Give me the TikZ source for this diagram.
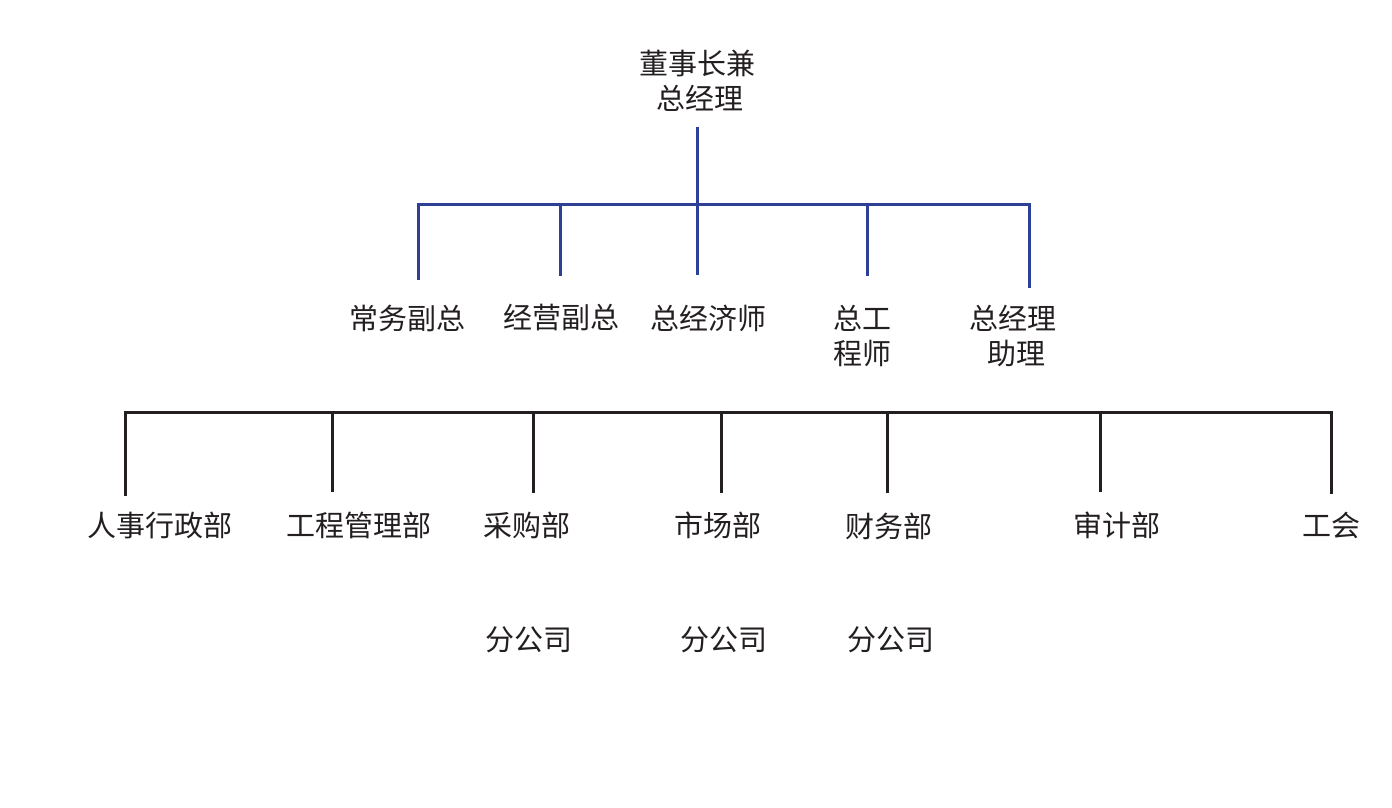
\documentclass[tikz,border=0pt]{standalone}
\usepackage{fontspec}
\setmainfont{Noto Sans CJK SC}
\definecolor{lineblue}{HTML}{2E3F96}
\definecolor{lineblack}{HTML}{231F20}
\definecolor{textc}{HTML}{231F20}
\begin{document}
\begin{tikzpicture}[x=1pt,y=-1pt,
  lbl/.style={inner sep=0pt,align=center,text=textc,font=\fontsize{29}{35}\selectfont},
  blueline/.style={draw=lineblue,line width=3pt},
  blackline/.style={draw=lineblack,line width=3pt}]
\useasboundingbox (0,0) rectangle (1392,807);
% labels
\node[lbl] (ceo) at (697,81) {董事长兼\\\ 总经理};
\node[lbl] (v1) at (407,318) {常务副总};
\node[lbl] (v2) at (561,318) {经营副总};
\node[lbl] (v3) at (708,318) {总经济师};
\node[lbl] (v4) at (862,336) {总工\\程师};
\node[lbl] (v5) at (1013,336) {总经理\\\ 助理};
\node[lbl] (d1) at (160,525) {人事行政部};
\node[lbl] (d2) at (359,525) {工程管理部};
\node[lbl] (d3) at (527,525) {采购部};
\node[lbl] (d4) at (718,525) {市场部};
\node[lbl] (d5) at (889,526) {财务部};
\node[lbl] (d6) at (1117,525) {审计部};
\node[lbl] (d7) at (1331,525) {工会};
\node[lbl] (b1) at (529,640) {分公司};
\node[lbl] (b2) at (724,640) {分公司};
\node[lbl] (b3) at (891,640) {分公司};
% blue tree coordinates
\coordinate (ctop) at (697,127);
\coordinate (cj) at (697,204);
\coordinate (hl) at (418,204);
\coordinate (hr) at (1029,204);
\coordinate (j2) at (560,204);
\coordinate (j4) at (867,204);
\coordinate (e1) at (418,278);
\coordinate (e2) at (560,276);
\coordinate (e3) at (697,275);
\coordinate (e4) at (867,276);
\coordinate (e5) at (1029,286);
\draw[blueline] (ctop) -- (cj);
\draw[blueline,line cap=rect] (e1) -- (hl) -- (hr) -- (e5);
\draw[blueline] (j2) -- (e2);
\draw[blueline] (cj) -- (e3);
\draw[blueline] (j4) -- (e4);
% black tree
\coordinate (kl) at (125,412);
\coordinate (kr) at (1331,412);
\coordinate (k2) at (332,412);
\coordinate (k3) at (533,412);
\coordinate (k4) at (721,412);
\coordinate (k5) at (887,412);
\coordinate (k6) at (1100,412);
\coordinate (f1) at (125,494);
\coordinate (f2) at (332,492);
\coordinate (f3) at (533,493);
\coordinate (f4) at (721,493);
\coordinate (f5) at (887,493);
\coordinate (f6) at (1100,492);
\coordinate (f7) at (1331,492);
\draw[blackline,line cap=rect] (f1) -- (kl) -- (kr) -- (f7);
\draw[blackline] (k2) -- (f2);
\draw[blackline] (k3) -- (f3);
\draw[blackline] (k4) -- (f4);
\draw[blackline] (k5) -- (f5);
\draw[blackline] (k6) -- (f6);
\end{tikzpicture}
\end{document}
